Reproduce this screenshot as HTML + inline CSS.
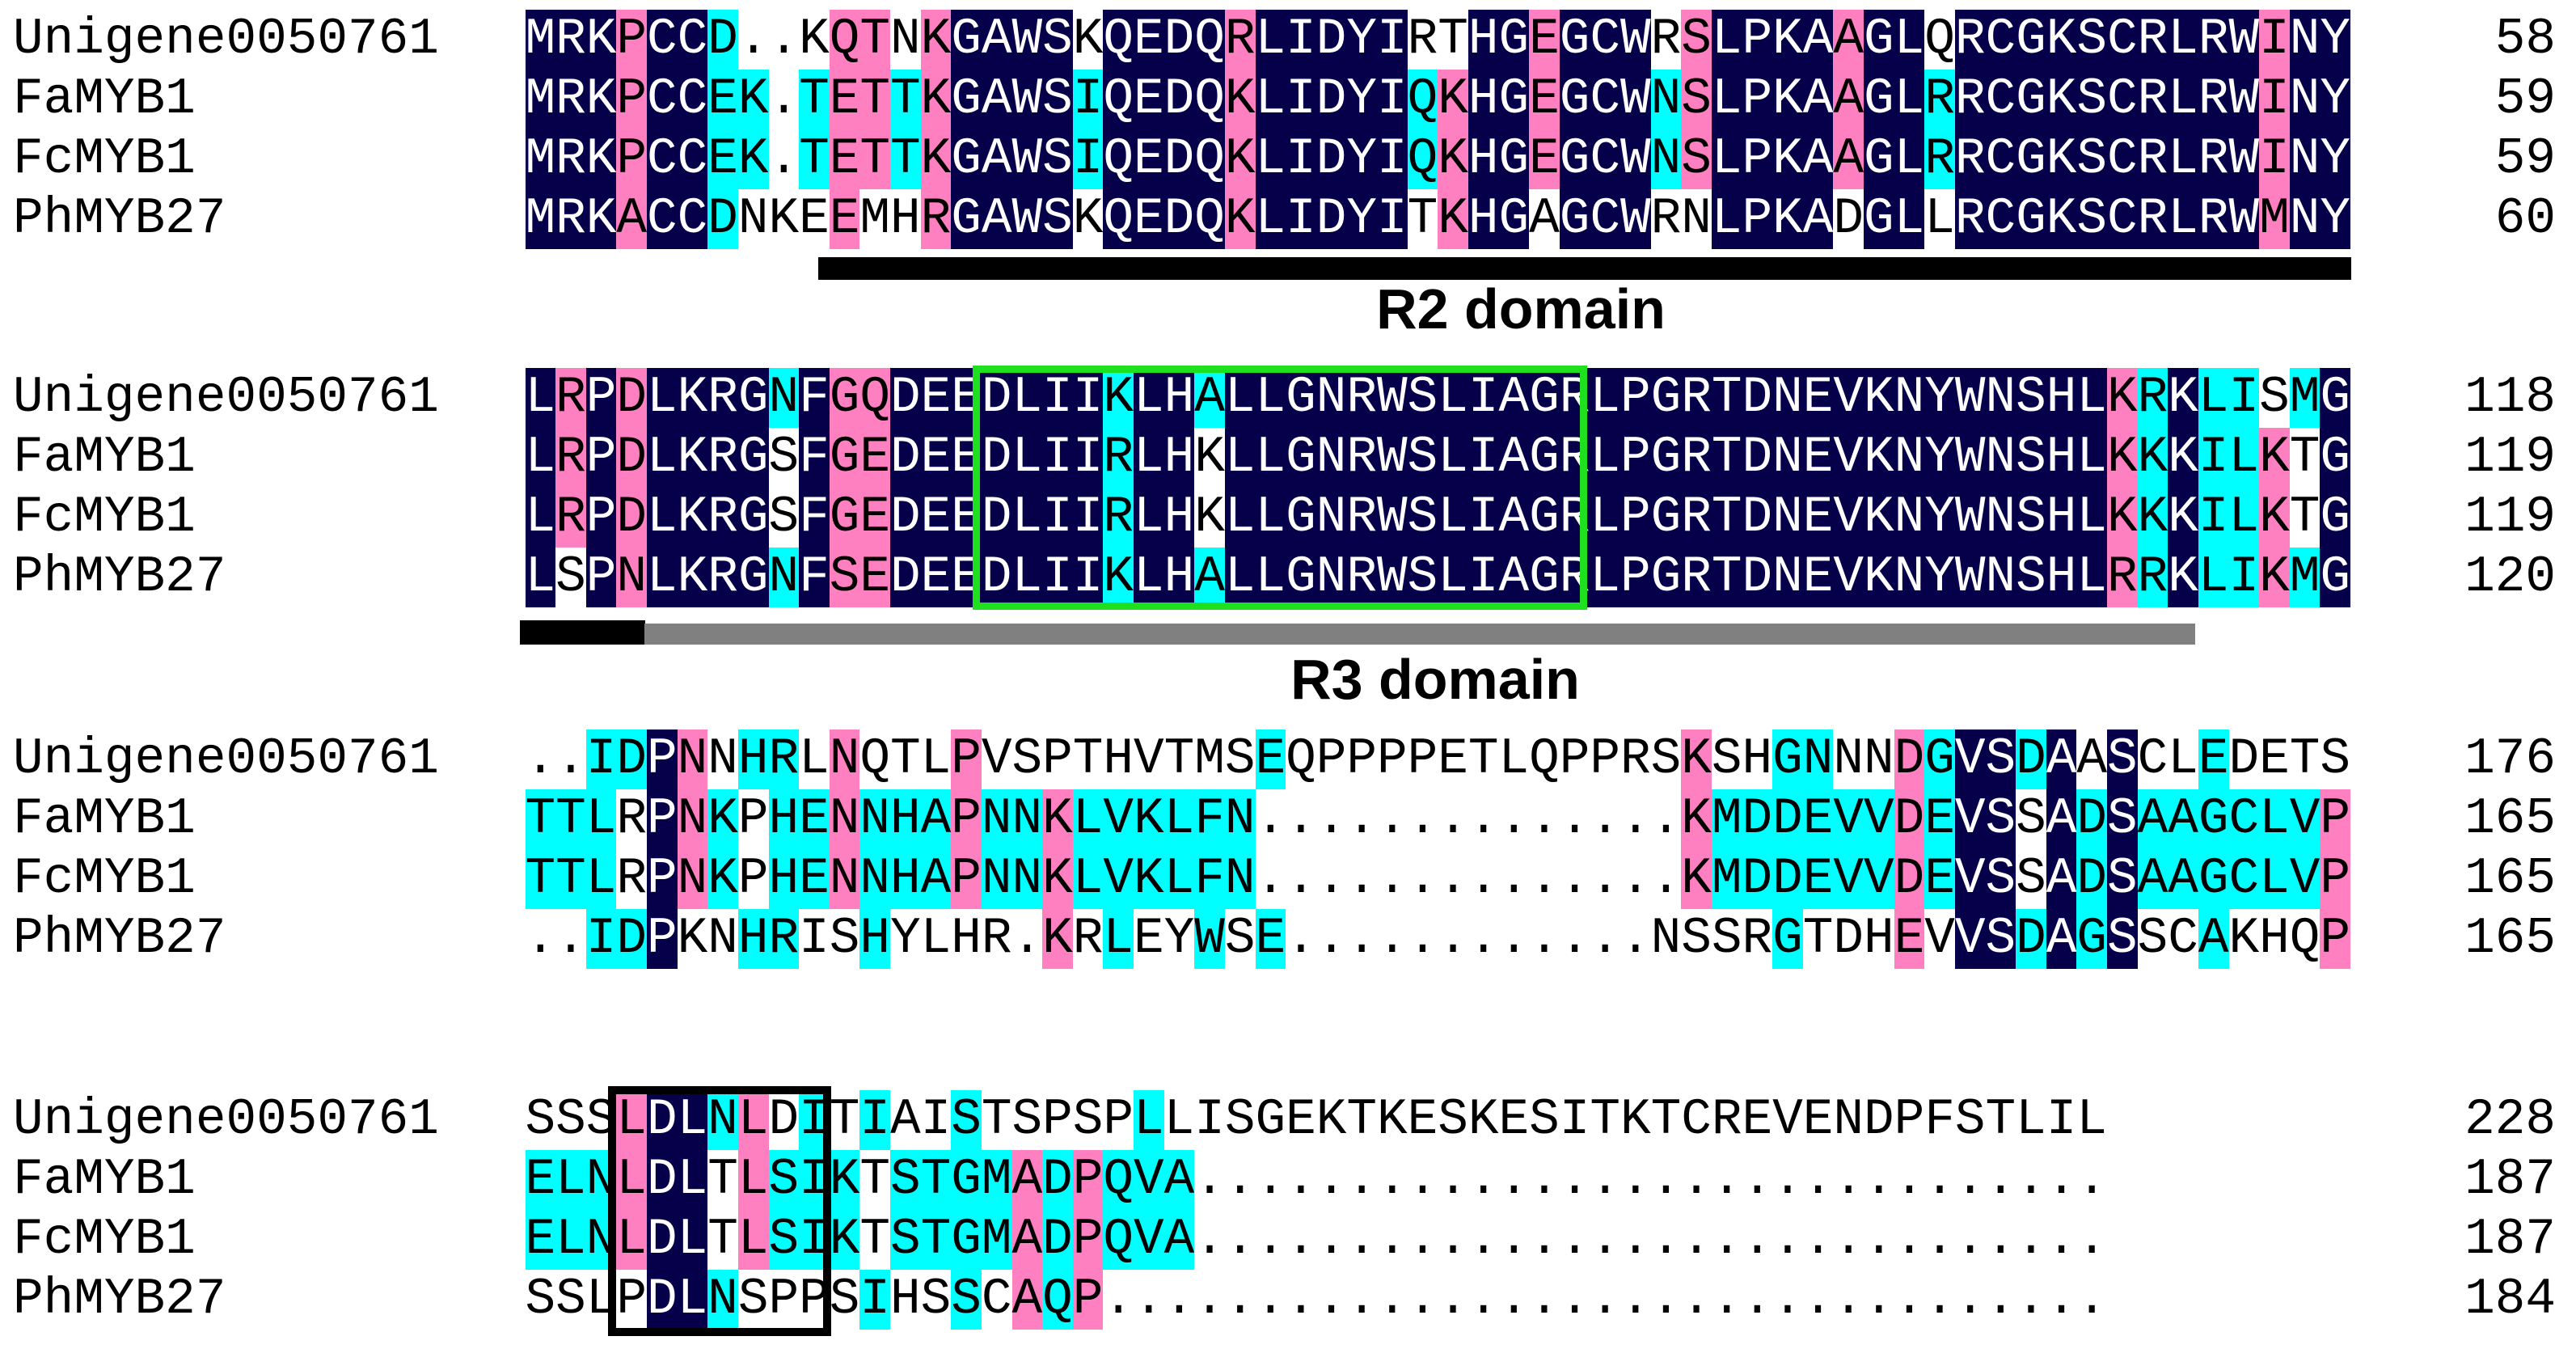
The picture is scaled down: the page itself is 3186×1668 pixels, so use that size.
<!DOCTYPE html>
<html><head><meta charset="utf-8">
<style>
html,body{margin:0;padding:0;background:#fff;}
body{width:3186px;height:1668px;position:relative;overflow:hidden;font-family:"Liberation Mono","DejaVu Sans Mono",monospace;}
.row{position:absolute;height:74px;line-height:74px;font-size:62.73px;white-space:pre;color:#000;}
.name{left:16px;}
.seq{left:649.5px;}
.seq span{display:inline-block;width:37.64px;height:74px;text-align:center;vertical-align:top;}
.n{background:#06004a;color:#fff;}
.p{background:#ff80c0;}
.c{background:#00ffff;}
.num{right:25px;text-align:right;}
.bar{position:absolute;}
.lbl{position:absolute;font-family:"Liberation Sans",sans-serif;font-weight:bold;font-size:70px;line-height:80px;transform:translateX(-50%);}
.box{position:absolute;box-sizing:border-box;}
</style></head><body>

<!-- Block 1 -->
<div class="row name" style="top:12px">Unigene0050761</div>
<div class="row name" style="top:86px">FaMYB1</div>
<div class="row name" style="top:160px">FcMYB1</div>
<div class="row name" style="top:234px">PhMYB27</div>
<div class="row seq b1" style="top:12px">MRKPCCD..KQTNKGAWSKQEDQRLIDYIRTHGEGCWRSLPKAAGLQRCGKSCRLRWINY</div>
<div class="row seq b1" style="top:86px">MRKPCCEK.TETTKGAWSIQEDQKLIDYIQKHGEGCWNSLPKAAGLRRCGKSCRLRWINY</div>
<div class="row seq b1" style="top:160px">MRKPCCEK.TETTKGAWSIQEDQKLIDYIQKHGEGCWNSLPKAAGLRRCGKSCRLRWINY</div>
<div class="row seq b1" style="top:234px">MRKACCDNKEEMHRGAWSKQEDQKLIDYITKHGAGCWRNLPKADGLLRCGKSCRLRWMNY</div>
<div class="row num" style="top:12px">58</div>
<div class="row num" style="top:86px">59</div>
<div class="row num" style="top:160px">59</div>
<div class="row num" style="top:234px">60</div>
<div class="bar" style="left:1012px;top:318px;width:1896px;height:28px;background:#000"></div>
<div class="lbl" style="left:1881px;top:342px">R2 domain</div>

<!-- Block 2 -->
<div class="row name" style="top:455px">Unigene0050761</div>
<div class="row name" style="top:529px">FaMYB1</div>
<div class="row name" style="top:603px">FcMYB1</div>
<div class="row name" style="top:677px">PhMYB27</div>
<div class="row seq b2" style="top:455px">LRPDLKRGNFGQDEEDLIIKLHALLGNRWSLIAGRLPGRTDNEVKNYWNSHLKRKLISMG</div>
<div class="row seq b2" style="top:529px">LRPDLKRGSFGEDEEDLIIRLHKLLGNRWSLIAGRLPGRTDNEVKNYWNSHLKKKILKTG</div>
<div class="row seq b2" style="top:603px">LRPDLKRGSFGEDEEDLIIRLHKLLGNRWSLIAGRLPGRTDNEVKNYWNSHLKKKILKTG</div>
<div class="row seq b2" style="top:677px">LSPNLKRGNFSEDEEDLIIKLHALLGNRWSLIAGRLPGRTDNEVKNYWNSHLRRKLIKMG</div>
<div class="row num" style="top:455px">118</div>
<div class="row num" style="top:529px">119</div>
<div class="row num" style="top:603px">119</div>
<div class="row num" style="top:677px">120</div>
<div class="box" style="left:1203px;top:452px;width:760px;height:302px;border:9px solid #1ee01e"></div>
<div class="bar" style="left:643px;top:767px;width:155px;height:30px;background:#000"></div>
<div class="bar" style="left:797px;top:771px;width:1918px;height:26px;background:#808080"></div>
<div class="lbl" style="left:1775px;top:800px">R3 domain</div>

<!-- Block 3 -->
<div class="row name" style="top:902px">Unigene0050761</div>
<div class="row name" style="top:976px">FaMYB1</div>
<div class="row name" style="top:1050px">FcMYB1</div>
<div class="row name" style="top:1124px">PhMYB27</div>
<div class="row seq b3" data-c="3-4c,5n,6p,8-9c,11p,15p,25c,39p,42-43c,46p,47c,48-49n,50c,51n,53n,56c" style="top:902px">..IDPNNHRLNQTLPVSPTHVTMSEQPPPPETLQPPRSKSHGNNNDGVSDAASCLEDETS</div>
<div class="row seq b3" data-c="1-3c,5n,6p,7c,9-10c,11p,12-14c,15p,16-17c,18p,19-24c,39p,40-45c,46p,47c,48-49n,51n,52c,53n,54-59c,60p" style="top:976px">TTLRPNKPHENNHAPNNKLVKLFN..............KMDDEVVDEVSSADSAAGCLVP</div>
<div class="row seq b3" data-c="1-3c,5n,6p,7c,9-10c,11p,12-14c,15p,16-17c,18p,19-24c,39p,40-45c,46p,47c,48-49n,51n,52c,53n,54-59c,60p" style="top:1050px">TTLRPNKPHENNHAPNNKLVKLFN..............KMDDEVVDEVSSADSAAGCLVP</div>
<div class="row seq b3" data-c="3-4c,5n,8-9c,12c,18p,20c,23c,25c,42c,46p,48-49n,50c,51n,52c,53n,56c,60p" style="top:1124px">..IDPKNHRISHYLHR.KRLEYWSE............NSSRGTDHEVVSDAGSSCAKHQP</div>
<div class="row num" style="top:902px">176</div>
<div class="row num" style="top:976px">165</div>
<div class="row num" style="top:1050px">165</div>
<div class="row num" style="top:1124px">165</div>

<!-- Block 4 -->
<div class="row name" style="top:1348px">Unigene0050761</div>
<div class="row name" style="top:1422px">FaMYB1</div>
<div class="row name" style="top:1496px">FcMYB1</div>
<div class="row name" style="top:1570px">PhMYB27</div>
<div class="row seq b3" data-c="4p,5-6n,7c,8p,10c,12c,15c,21c" style="top:1348px">SSSLDLNLDITIAISTSPSPLLISGEKTKESKESITKTCREVENDPFSTLIL</div>
<div class="row seq b3" data-c="1-3c,4p,5-6n,8p,9-11c,13-16c,17p,18c,19p,20-22c" style="top:1422px">ELNLDLTLSIKTSTGMADPQVA..............................</div>
<div class="row seq b3" data-c="1-3c,4p,5-6n,8p,9-11c,13-16c,17p,18c,19p,20-22c" style="top:1496px">ELNLDLTLSIKTSTGMADPQVA..............................</div>
<div class="row seq b3" data-c="5-6n,7c,12c,15c,17p,18c,19p" style="top:1570px">SSLPDLNSPPSIHSSCAQP.................................</div>
<div class="row num" style="top:1348px">228</div>
<div class="row num" style="top:1422px">187</div>
<div class="row num" style="top:1496px">187</div>
<div class="row num" style="top:1570px">184</div>
<div class="box" style="left:752px;top:1343px;width:276px;height:309px;border:10px solid #000"></div>

<script>
(function(){
  function wrap(el,cls){
    var t=el.textContent,h='';
    for(var i=0;i<t.length;i++){h+='<span'+(cls[i]?' class="'+cls[i]+'"':'')+'>'+t[i]+'</span>';}
    el.innerHTML=h;
  }
  var groups=['KRH','DENQ','ILVM','PA','GS'];
  function sim(a,b){if(a===b)return true;for(var g=0;g<groups.length;g++){if(groups[g].indexOf(a)>=0&&groups[g].indexOf(b)>=0)return true;}return false;}
  ['b1','b2'].forEach(function(b){
    var rows=[].slice.call(document.querySelectorAll('.'+b));
    var seqs=rows.map(function(r){return r.textContent;});
    var cls=rows.map(function(){return [];});
    for(var i=0;i<seqs[0].length;i++){
      var cnt={};
      seqs.forEach(function(s){var ch=s[i];if(ch!=='.')cnt[ch]=(cnt[ch]||0)+1;});
      var best=null,bc=0;
      Object.keys(cnt).sort().forEach(function(k){if(cnt[k]>bc){bc=cnt[k];best=k;}});
      var c=bc===4?'n':bc===3?'p':bc===2?'c':'';
      seqs.forEach(function(s,r){var ch=s[i];if(c&&ch!=='.'&&sim(ch,best))cls[r][i]=c;});
    }
    rows.forEach(function(r,k){wrap(r,cls[k]);});
  });
  [].slice.call(document.querySelectorAll('.b3')).forEach(function(el){
    var cls=[];
    (el.getAttribute('data-c')||'').split(',').forEach(function(p){
      if(!p)return;var c=p.slice(-1),r=p.slice(0,-1).split('-');
      var a=+r[0],z=+(r[1]||r[0]);for(var i=a;i<=z;i++)cls[i-1]=c;
    });
    wrap(el,cls);
  });
})();
</script>
</body></html>
